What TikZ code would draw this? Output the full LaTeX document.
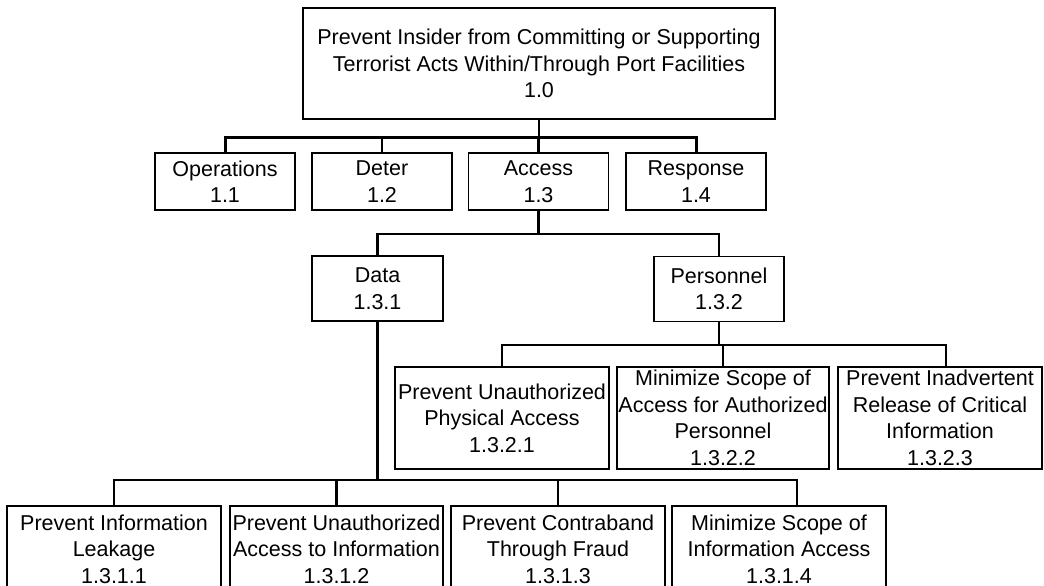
\documentclass[tikz,border=0pt]{standalone}
\usepackage{fontspec}
\setmainfont{Liberation Sans}
\usetikzlibrary{positioning,calc}
\newcommand{\goalfont}{\fontsize{21.5}{26.5}\selectfont}
\tikzset{
    goal/.style={rectangle, draw=black, line width=1.6pt, align=center, inner sep=0pt, font=\goalfont},
    goalS/.style={goal, line width=1.1pt},
    link/.style={line width=2.2pt, black},
    bus/.style={line width=3pt, black},
}

\begin{document}
\begin{tikzpicture}[x=1pt, y=-1pt]
    \useasboundingbox (0,0) rectangle (1044,586);

    % Top goal
    \node[goal, minimum width=472pt, minimum height=111pt] (top) at (539,63.5)
        {Prevent Insider from Committing or Supporting\\Terrorist Acts Within/Through Port Facilities\\1.0};

    % Level 1
    \node[goal, minimum width=140pt, minimum height=57pt] (ops) at (225,181.5) {Operations\\1.1};
    \node[goal, minimum width=140pt, minimum height=57pt] (deter) at (382,181.5) {Deter\\1.2};
    \node[goal, minimum width=140pt, minimum height=57pt] (access) at (538.5,181.5) {Access\\1.3};
    \node[goal, minimum width=140pt, minimum height=57pt] (resp) at (696,181.5) {Response\\1.4};

    % Level 2
    \node[goal, minimum width=131pt, minimum height=65pt] (data) at (377.5,288.5) {Data\\1.3.1};
    \node[goal, minimum width=130pt, minimum height=65pt] (pers) at (719,289) {Personnel\\1.3.2};

    % Personnel children
    \node[goalS, minimum width=214pt, minimum height=102pt] (p1) at (502,418)
        {Prevent Unauthorized\\Physical Access\\1.3.2.1};
    \node[goalS, minimum width=212pt, minimum height=102pt] (p2) at (723,418)
        {Minimize Scope of\\Access for Authorized\\Personnel\\1.3.2.2};
    \node[goalS, minimum width=204pt, minimum height=102pt] (p3) at (940,418)
        {Prevent Inadvertent\\Release of Critical\\Information\\1.3.2.3};

    % Data children
    \node[goalS, minimum width=214pt, minimum height=86pt] (d1) at (114,549)
        {Prevent Information\\Leakage\\1.3.1.1};
    \node[goalS, minimum width=213pt, minimum height=86pt] (d2) at (336.5,549)
        {Prevent Unauthorized\\Access to Information\\1.3.1.2};
    \node[goalS, minimum width=214pt, minimum height=86pt] (d3) at (558,549)
        {Prevent Contraband\\Through Fraud\\1.3.1.3};
    \node[goalS, minimum width=214pt, minimum height=86pt] (d4) at (779,549)
        {Minimize Scope of\\Information Access\\1.3.1.4};

    % Bus points
    \coordinate (b1) at (539,137.5);
    \coordinate (b2) at (538.5,234);
    \coordinate (b3) at (719,345);
    \coordinate (b4) at (377.5,480);

    % Connections
    \draw[link] (top) -- (b1);
    \draw[bus] (ops.north) |- (b1) -| (resp.north);
    \draw[link] (deter.north) -- (deter.north |- b1);
    \draw[link] (access.north) -- (access.north |- b1);

    \draw[link] (access.south) -- (b2);
    \draw[link] (data.north) |- (b2) -| (pers.north);

    \draw[link] (pers.south) -- (b3);
    \draw[link] (p1.north) |- (b3) -| ([xshift=6pt]p3.north);
    \draw[link] (p2.north) -- (p2.north |- b3);

    \draw[link] (data.south) -- (b4);
    \draw[link] (d1.north) |- (b4) -| ([xshift=18pt]d4.north);
    \draw[link] (d2.north) -- (d2.north |- b4);
    \draw[link] (d3.north) -- (d3.north |- b4);
\end{tikzpicture}
\end{document}
